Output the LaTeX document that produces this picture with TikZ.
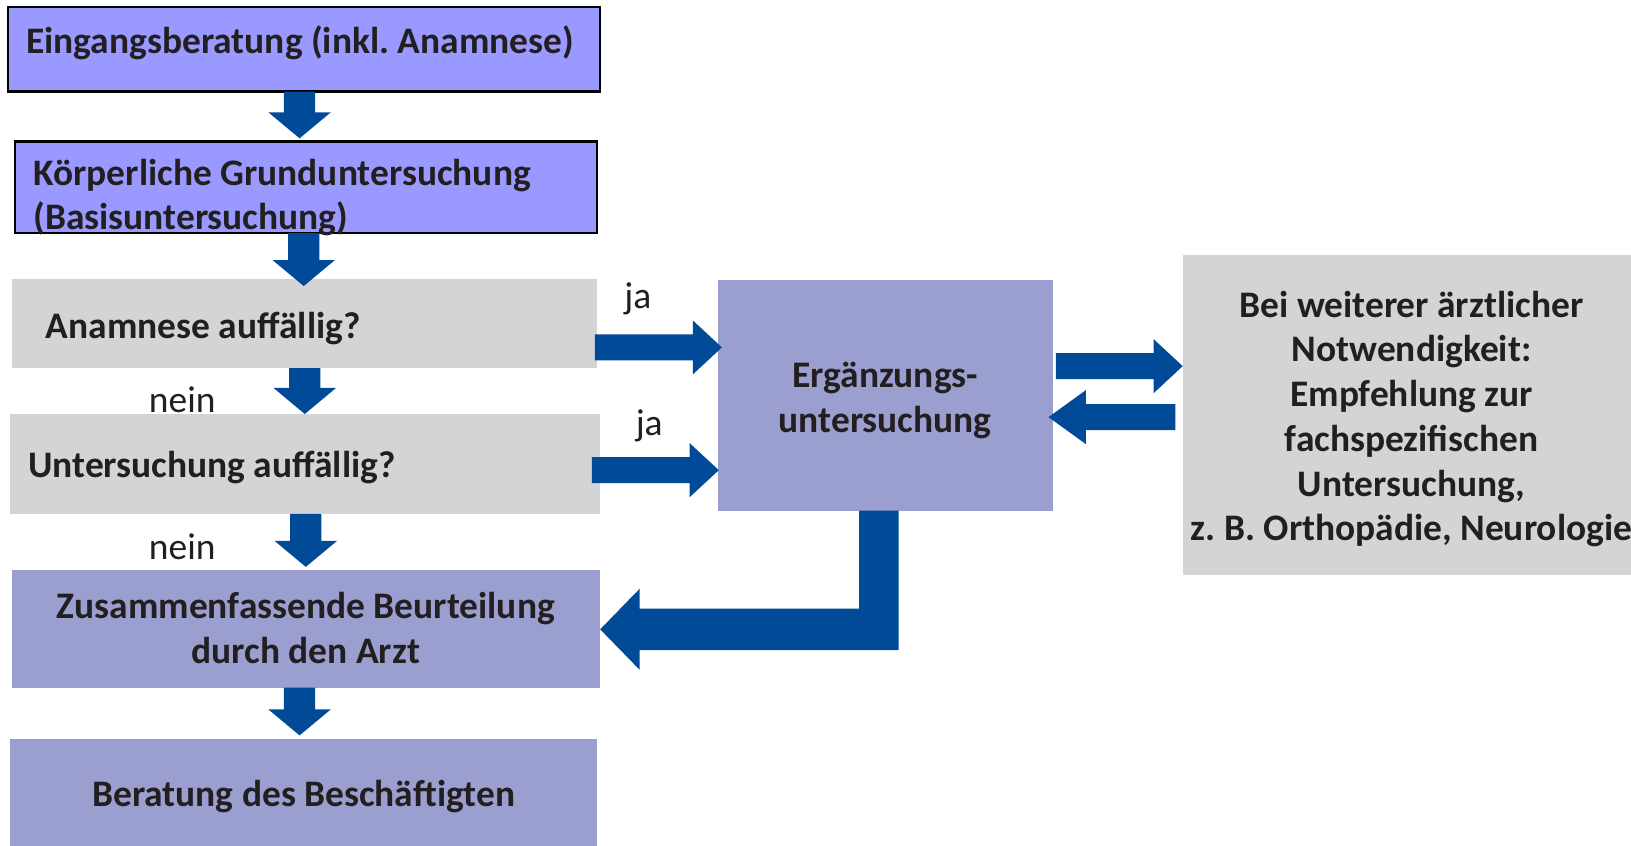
\documentclass[tikz,border=0pt]{standalone}
\usepackage{fontspec}
\setmainfont{Carlito}
\usetikzlibrary{calc}
\frenchspacing
\definecolor{lav}{RGB}{153,153,255}
\definecolor{purp}{RGB}{154,159,207}
\definecolor{gry}{RGB}{211,212,214}
\definecolor{ablue}{RGB}{0,74,152}
\definecolor{txt}{RGB}{35,31,32}
% vertical block arrow: x, start anchor, end anchor, tip shift
\newcommand{\downblock}[4]{%
  \coordinate (ds) at (#1,0 |- #2);
  \coordinate (de) at ($(#1,0 |- #3)+(0,#4)$);
  \fill[arr] ($(ds)+(-15,0)$) -- ($(ds)+(15,0)$) -- ($(de)+(15,-25)$) -- ($(de)+(30,-25)$) -- (de)
     -- ($(de)+(-30,-25)$) -- ($(de)+(-15,-25)$) -- cycle;}
% right-pointing block arrow: y, start anchor, end anchor, start shift, tip shift
\newcommand{\rightblock}[5]{%
  \coordinate (rs) at ($(#2 |- 0,#1)+(#4,0)$);
  \coordinate (re) at ($(#3 |- 0,#1)+(#5,0)$);
  \fill[arr] ($(rs)+(0,-12.5)$) -- ($(re)+(-28,-12.5)$) -- ($(re)+(-28,-26)$) -- (re)
     -- ($(re)+(-28,26)$) -- ($(re)+(-28,12.5)$) -- ($(rs)+(0,12.5)$) -- cycle;}
% left-pointing block arrow
\newcommand{\leftblock}[5]{%
  \coordinate (ls) at ($(#2 |- 0,#1)+(#4,0)$);
  \coordinate (le) at ($(#3 |- 0,#1)+(#5,0)$);
  \fill[arr] ($(ls)+(0,-12.5)$) -- ($(le)+(36,-12.5)$) -- ($(le)+(36,-26)$) -- (le)
     -- ($(le)+(36,26)$) -- ($(le)+(36,12.5)$) -- ($(ls)+(0,12.5)$) -- cycle;}
\begin{document}
\begin{tikzpicture}[x=1pt,y=-1pt,
  box/.style={anchor=north west, inner sep=0pt, outer sep=0pt},
  lavbox/.style={box, fill=lav, draw=black, line width=2pt},
  purpbox/.style={box, fill=purp},
  greybox/.style={box, fill=gry},
  lbl/.style={font=\fontsize{36}{43}\selectfont\bfseries, text=txt, inner sep=0pt},
  yn/.style={font=\fontsize{36}{43}\selectfont, text=txt, inner sep=0pt},
  arr/.style={fill=ablue}]
\useasboundingbox (0,0) rectangle (1568,813);
\fill[white] (0,0) rectangle (1568,813);
% boxes
\node[lavbox, minimum width=569, minimum height=81] (b1) at (8,7) {};
\node[lavbox, minimum width=560, minimum height=88] (b2) at (14,136) {};
\node[greybox, minimum width=562, minimum height=86] (b3) at (12,268) {};
\node[greybox, minimum width=567, minimum height=96] (b4) at (10,398) {};
\node[purpbox, minimum width=565, minimum height=113] (b5) at (12,548) {};
\node[purpbox, minimum width=564, minimum height=110] (b6) at (10,710) {};
\node[purpbox, minimum width=322, minimum height=222] (b7) at (690,269) {};
\node[greybox, minimum width=440, minimum height=308] (b8) at (1137,245) {};
% texts
\node[lbl, anchor=base west] (t1) at (25,51) {Eingangsberatung (inkl. Anamnese)};
\node[lbl, anchor=base west, text width=540, align=flush left] (t2) at (32,178) {Körperliche Grunduntersuchung\\(Basisuntersuchung)};
\node[lbl, anchor=base west] (t3) at (44,325) {Anamnese auffällig?};
\node[lbl, anchor=base west] (t4) at (27,459) {Untersuchung auffällig?};
\node[lbl, anchor=base, text width=540, align=flush center] (t5) at (294,595) {Zusammenfassende Beurteilung\\durch den Arzt};
\node[lbl, anchor=base] (t6) at (292,775) {Beratung des Beschäftigten};
\node[lbl, anchor=base, text width=300, align=flush center] (t7) at (851,373) {Ergänzungs-\\untersuchung};
\node[lbl, anchor=base, text width=460, align=flush center] (t8) at (1357,305) {Bei weiterer ärztlicher\\Notwendigkeit:\\Empfehlung zur\\fachspezifischen\\Untersuchung,\\z. B. Orthopädie, Neurologie};
\node[yn, anchor=base west] (n1) at (143,397) {nein};
\node[yn, anchor=base west] (n2) at (143,538) {nein};
\node[yn, anchor=base west] (j1) at (600,297) {ja};
\node[yn, anchor=base west] (j2) at (611,419) {ja};
% arrows
\downblock{288}{b1.south}{b2.north}{-3}
\downblock{292}{b2.south}{b3.north}{7}
\downblock{293}{b3.south}{b4.north}{0}
\downblock{294}{b4.south}{b5.north}{-3}
\downblock{288}{b5.south}{b6.north}{-3}
\rightblock{334}{b3.east}{b7.west}{-2}{4}
\rightblock{452}{b4.east}{b7.west}{-8}{1}
\rightblock{352}{b7.east}{b8.west}{3}{0}
\leftblock{401}{b8.west}{b7.east}{-7}{-4}
\coordinate (lt) at (845,0 |- b7.south);
\coordinate (lb) at (b5.east |- 0,605);
\fill[arr] ($(lt)+(-19,0)$) -- ($(lt)+(19,0)$) -- ($(lt |- lb)+(19,20)$) -- ($(lb)+(38,20)$)
  -- ($(lb)+(38,39)$) -- (lb) -- ($(lb)+(38,-39)$) -- ($(lb)+(38,-20)$)
  -- ($(lt |- lb)+(-19,-20)$) -- cycle;
\end{tikzpicture}
\end{document}
